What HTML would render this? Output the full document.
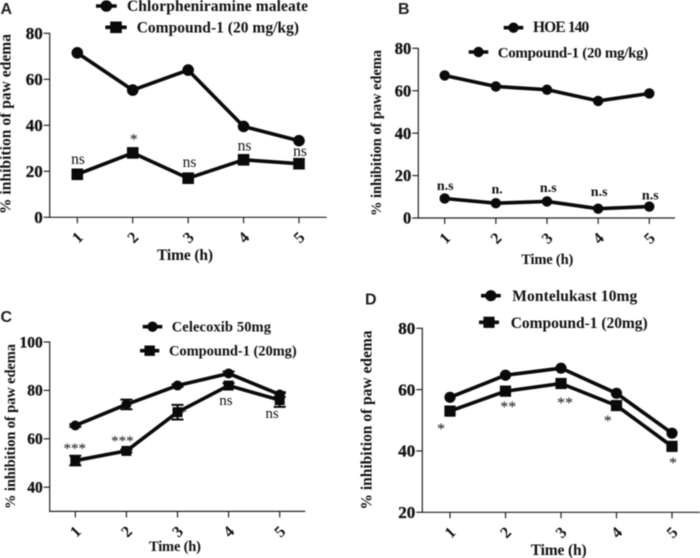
<!DOCTYPE html>
<html lang="en">
<head>
<meta charset="utf-8">
<title>Inhibition of paw edema</title>
<style>
html,body{margin:0;padding:0;background:#fff;}
svg{display:block;filter:blur(0.45px);}
text{font-family:"Liberation Serif",serif;fill:#111;}
.pl{font-family:"Liberation Sans",sans-serif;font-weight:bold;font-size:16px;fill:#222;}
.lg{font-weight:bold;font-size:15.5px;}
.at{font-weight:bold;font-size:15.5px;}
</style>
</head>
<body>
<svg id="figure" xmlns="http://www.w3.org/2000/svg" width="700" height="558" viewBox="0 0 700 558">
  <rect width="700" height="558" fill="#fff"/>

  <text class="pl" x="0.5" y="14">A</text>
  <text class="pl" x="398" y="14">B</text>
  <text class="pl" x="0.5" y="322">C</text>
  <text class="pl" x="365" y="304.5">D</text>

  <text class="at" transform="translate(10.5,124) rotate(-90)" text-anchor="middle" textLength="180" lengthAdjust="spacing">% inhibition of paw edema</text>
  <text class="at" style="font-size:14.5px" transform="translate(381,133) rotate(-90)" text-anchor="middle" textLength="166" lengthAdjust="spacing">% inhibition of paw edema</text>
  <text class="at" style="font-size:14.5px" transform="translate(15,426.5) rotate(-90)" text-anchor="middle" textLength="165" lengthAdjust="spacing">% inhibition of paw edema</text>
  <text class="at" transform="translate(371.5,420) rotate(-90)" text-anchor="middle" textLength="179" lengthAdjust="spacing">% inhibition of paw edema</text>

  <text class="at" x="157" y="260" textLength="56">Time (h)</text>
  <text class="at" style="font-size:14.5px" x="521.3" y="264" textLength="52">Time (h)</text>
  <text class="at" style="font-size:14.5px" x="149" y="551" textLength="52">Time (h)</text>
  <text class="at" x="530.7" y="555" textLength="56">Time (h)</text>

  <text class="lg" x="127" y="11" textLength="181">Chlorpheniramine maleate</text>
  <text class="lg" x="136.7" y="32.5" textLength="162.3">Compound-1 (20 mg/kg)</text>
  <text class="lg" x="533" y="32" textLength="56.3">HOE 140</text>
  <text class="lg" style="font-size:15px" x="497.7" y="57.5" textLength="150.6">Compound-1 (20 mg/kg)</text>
  <text class="lg" style="font-size:14.5px" x="171.7" y="331.5" textLength="99.3">Celecoxib 50mg</text>
  <text class="lg" style="font-size:14.5px" x="169" y="355.5" textLength="127.7">Compound-1 (20mg)</text>
  <text class="lg" x="512.3" y="301" textLength="125">Montelukast 10mg</text>
  <text class="lg" x="510.7" y="328" textLength="137">Compound-1 (20mg)</text>

  <g id="plots"></g>
</svg>
<script>
// ---- data ----
const categories = ['1', '2', '3', '4', '5'];

const aTicks = [0, 20, 40, 60, 80];
const aCircle = [71.5, 55.3, 64, 39.5, 33.3];
const aSquare = [18.7, 28, 17, 25, 23.3];
const aNotes = ['ns', '*', 'ns', 'ns', 'ns'];

const bTicks = [0, 20, 40, 60, 80];
const bUpper = [67.2, 62, 60.5, 55.2, 58.7];
const bLower = [9.2, 7, 7.8, 4.4, 5.4];
const bNotes = ['n.s', 'n.', 'n.s', 'n.s', 'n.s'];

const cTicks = [40, 60, 80, 100];
const cCircle = [65.5, 74.2, 82, 87, 78.3];
const cCircleErr = [0.5, 2, 0.5, 0.8, 1];
const cSquare = [51, 55, 71, 82, 76];
const cSquareErr = [2, 0.6, 3, 1, 2.8];
const cNotes = ['***', '***', '*', 'ns', 'ns'];

const dTicks = [20, 40, 60, 80];
const dCircle = [57.5, 64.7, 67, 58.8, 45.8];
const dSquare = [53, 59.5, 62, 54.8, 41.5];
const dNotes = ['*', '**', '**', '*', '*'];

// ---- drawing ----
const NS = 'http://www.w3.org/2000/svg';
const root = document.getElementById('plots');

function make(tag, attrs, parent) {
  const n = document.createElementNS(NS, tag);
  for (const k in attrs) n.setAttribute(k, attrs[k]);
  (parent || root).appendChild(n);
  return n;
}

function linear(d0, d1, r0, r1) {
  return function (v) { return r0 + (v - d0) * (r1 - r0) / (d1 - d0); };
}

function marker(shape, x, y, size) {
  let m;
  if (shape === 'circle') {
    m = make('circle', { cx: x, cy: y, r: size, fill: '#0a0a0a' });
  } else {
    m = make('rect', { x: x - size, y: y - size, width: size * 2, height: size * 2, fill: '#0a0a0a' });
  }
  return m;
}

function drawPanel(p) {
  const x = linear(0, p.cats.length - 1, p.x0, p.x1);
  const y = linear(p.dMin, p.dMax, p.yBottom, p.yTop);

  const yAxis = make('line', { x1: p.axisX, x2: p.axisX, y1: y(p.dMax) - 0.6, y2: p.yBottom + 0.6, stroke: '#222', 'stroke-width': 1.2 });
  
  
  const xAxis = make('line', { x1: p.axisX, x2: p.axisRight, y1: p.yBottom, y2: p.yBottom, stroke: '#222', 'stroke-width': 1.2 });
  
  

  p.ticks.forEach(function (t) {
    const tk = make('line', { x1: p.axisX - 6, x2: p.axisX, y1: y(t), y2: y(t), stroke: '#222', 'stroke-width': 1.2 });
    
    
    const lb = make('text', { x: p.axisX - 7, y: y(t) + p.tickFont * 0.34, 'text-anchor': 'end', 'font-size': p.tickFont, 'font-weight': 'bold', stroke: '#111', 'stroke-width': 0.3 });
    lb.textContent = t;
    
    
  });

  p.cats.forEach(function (c, i) {
    const tk = make('line', { x1: x(i), x2: x(i), y1: p.yBottom, y2: p.yBottom + 6, stroke: '#222', 'stroke-width': 1.2 });
    
    
    const lb = make('text', { transform: 'translate(' + x(i) + ',' + (p.yBottom + 20) + ') rotate(-45)', 'text-anchor': 'middle', y: 5.5, 'font-size': 16, 'font-weight': 'bold' });
    lb.textContent = c;
    
    
  });

  p.notes.forEach(function (txt, i) {
    const off = p.noteOffsets[i];
    const nt = make('text', { x: x(i) + off[0], y: y(p.noteSeries[i]) + off[1], 'text-anchor': 'middle', 'font-size': p.noteFont, 'font-weight': p.noteWeight, fill: '#333' });
    nt.textContent = txt;
    
    
  });

  p.series.forEach(function (s) {
    const line = make('polyline', {
      points: s.values.map(function (v, i) { return x(i) + ',' + y(v); }).join(' '),
      fill: 'none', stroke: '#0a0a0a', 'stroke-width': 3.6, 'stroke-linejoin': 'round'
    });
    
    
    if (s.err) {
      s.values.forEach(function (v, i) {
        const e = s.err[i];
        const bar = make('path', {
          d: 'M' + (x(i) - 6) + ' ' + y(v + e) + 'H' + (x(i) + 6) + 'M' + x(i) + ' ' + y(v + e) + 'V' + y(v - e) + 'M' + (x(i) - 6) + ' ' + y(v - e) + 'H' + (x(i) + 6),
          fill: 'none', stroke: '#0a0a0a', 'stroke-width': 2
        });
        
        
      });
    }
    s.values.forEach(function (v, i) {
      const m = marker(s.shape, x(i), y(v), s.size);
      
      
    });
  });

  p.legend.forEach(function (l) {
    const ln = make('line', { x1: l.x0, x2: l.x1, y1: l.y, y2: l.y, stroke: '#0a0a0a', 'stroke-width': 3.6 });
    
    
    const mk = marker(l.shape, (l.x0 + l.x1) / 2, l.y, l.size);
    
    
  });
}

drawPanel({
  id: 'panel-a', cats: categories, ticks: aTicks, notes: aNotes, noteSeries: aSquare,
  x0: 77.3, x1: 299, axisX: 49.7, axisRight: 326.7, yTop: 33.3, yBottom: 217.3, dMin: 0, dMax: 80, tickFont: 17,
  noteFont: 15.5, noteWeight: 'normal',
  noteOffsets: [[0.7, -10.3], [1, -8.3], [1.4, -11.2], [1, -9.1], [1, -7.7]],
  series: [
    { name: 'chlorpheniramine', shape: 'circle', size: 5.8, values: aCircle },
    { name: 'compound-1', shape: 'square', size: 5.8, values: aSquare }
  ],
  legend: [
    { shape: 'circle', size: 5.8, x0: 96, x1: 116.7, y: 6 },
    { shape: 'square', size: 5.8, x0: 105.3, x1: 126.7, y: 27.3 }
  ]
});

drawPanel({
  id: 'panel-b', cats: categories, ticks: bTicks, notes: bNotes, noteSeries: bLower,
  x0: 444.7, x1: 649.3, axisX: 418.3, axisRight: 675, yTop: 48.3, yBottom: 218, dMin: 0, dMax: 80, tickFont: 16.5,
  noteFont: 14, noteWeight: 'bold',
  noteOffsets: [[0.5, -8.5], [1.3, -9.5], [1.3, -9.5], [1, -12.7], [1, -6.8]],
  series: [
    { name: 'hoe-140', shape: 'circle', size: 5.2, values: bUpper },
    { name: 'compound-1', shape: 'circle', size: 5.2, values: bLower }
  ],
  legend: [
    { shape: 'circle', size: 5.2, x0: 503.7, x1: 523.3, y: 27.7 },
    { shape: 'circle', size: 5.2, x0: 468.7, x1: 488.3, y: 52 }
  ]
});

drawPanel({
  id: 'panel-c', cats: categories, ticks: cTicks, notes: cNotes, noteSeries: cSquare,
  x0: 75.3, x1: 279.7, axisX: 49.7, axisRight: 305.3, yTop: 342, yBottom: 511.4, dMin: 30, dMax: 100, tickFont: 15.5,
  noteFont: 15, noteWeight: 'normal',
  noteOffsets: [[-0.6, -7.7], [-4, -5.5], [5.7, 5], [-2.7, 19.3], [-7.7, 18]],
  series: [
    { name: 'celecoxib', shape: 'circle', size: 5, values: cCircle, err: cCircleErr },
    { name: 'compound-1', shape: 'square', size: 5, values: cSquare, err: cSquareErr }
  ],
  legend: [
    { shape: 'circle', size: 5.2, x0: 142.7, x1: 162.3, y: 326.7 },
    { shape: 'square', size: 5.2, x0: 140, x1: 159.3, y: 350.7 }
  ]
});

drawPanel({
  id: 'panel-d', cats: categories, ticks: dTicks, notes: dNotes, noteSeries: dSquare,
  x0: 450, x1: 672, axisX: 422.3, axisRight: 700, yTop: 328.3, yBottom: 512.3, dMin: 20, dMax: 80, tickFont: 17,
  noteFont: 16, noteWeight: 'normal',
  noteOffsets: [[-9, 23], [2.7, 20.6], [4, 24.7], [-8.7, 20.2], [1, 21.4]],
  series: [
    { name: 'montelukast', shape: 'circle', size: 5.6, values: dCircle },
    { name: 'compound-1', shape: 'square', size: 5.6, values: dSquare }
  ],
  legend: [
    { shape: 'circle', size: 5.6, x0: 481, x1: 500.7, y: 295.7 },
    { shape: 'square', size: 5.6, x0: 479, x1: 499, y: 322.3 }
  ]
});
</script>
</body>
</html>
